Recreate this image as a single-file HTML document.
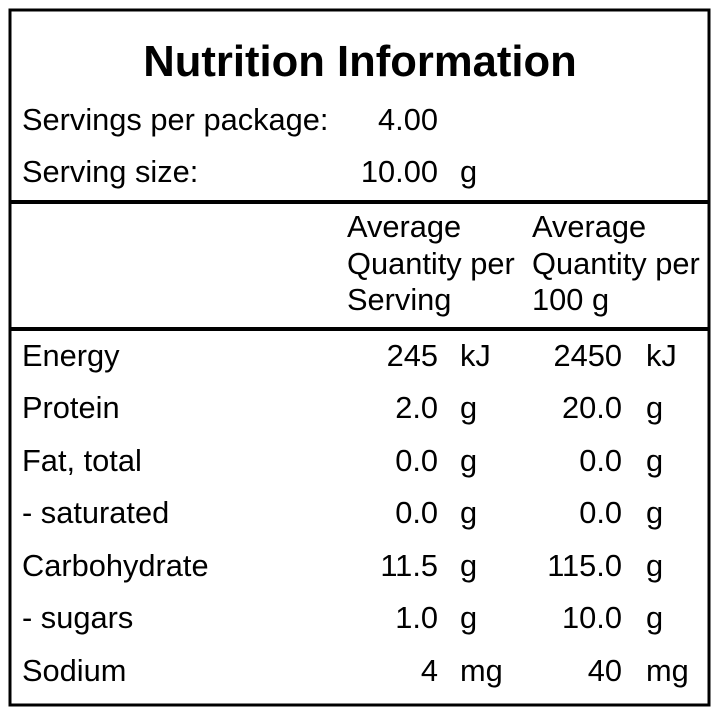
<!DOCTYPE html>
<html><head><meta charset="utf-8"><style>
html,body{margin:0;padding:0;background:#fff;}
svg{display:block;}
text{font-family:"Liberation Sans",Arial,sans-serif;font-size:30.8px;fill:#000;}
.e{text-anchor:end;}
</style></head><body>
<svg width="720" height="720" viewBox="0 0 720 720">
<rect x="10" y="10" width="699" height="695" fill="none" stroke="#000" stroke-width="3"/>
<rect x="10" y="200" width="699" height="4" fill="#000"/>
<rect x="10" y="327" width="699" height="4" fill="#000"/>
<text x="360" y="76" text-anchor="middle" style="font-weight:bold;font-size:43.6px">Nutrition Information</text>
<text x="22" y="130">Servings per package:</text><text class="e" x="438" y="130">4.00</text>
<text x="22" y="182">Serving size:</text><text class="e" x="438" y="182">10.00</text><text x="460" y="182">g</text>
<text x="347" y="237">Average</text><text x="347" y="274">Quantity per</text><text x="347" y="310">Serving</text>
<text x="532" y="237">Average</text><text x="532" y="274">Quantity per</text><text x="532" y="310">100 g</text>
<g>
<text x="22" y="366">Energy</text><text class="e" x="438" y="366">245</text><text x="460" y="366">kJ</text><text class="e" x="622" y="366">2450</text><text x="646" y="366">kJ</text>
<text x="22" y="418">Protein</text><text class="e" x="438" y="418">2.0</text><text x="460" y="418">g</text><text class="e" x="622" y="418">20.0</text><text x="646" y="418">g</text>
<text x="22" y="471">Fat, total</text><text class="e" x="438" y="471">0.0</text><text x="460" y="471">g</text><text class="e" x="622" y="471">0.0</text><text x="646" y="471">g</text>
<text x="22" y="523">- saturated</text><text class="e" x="438" y="523">0.0</text><text x="460" y="523">g</text><text class="e" x="622" y="523">0.0</text><text x="646" y="523">g</text>
<text x="22" y="576">Carbohydrate</text><text class="e" x="438" y="576">11.5</text><text x="460" y="576">g</text><text class="e" x="622" y="576">115.0</text><text x="646" y="576">g</text>
<text x="22" y="628">- sugars</text><text class="e" x="438" y="628">1.0</text><text x="460" y="628">g</text><text class="e" x="622" y="628">10.0</text><text x="646" y="628">g</text>
<text x="22" y="681">Sodium</text><text class="e" x="438" y="681">4</text><text x="460" y="681">mg</text><text class="e" x="622" y="681">40</text><text x="646" y="681">mg</text>
</g>
</svg>
</body></html>
